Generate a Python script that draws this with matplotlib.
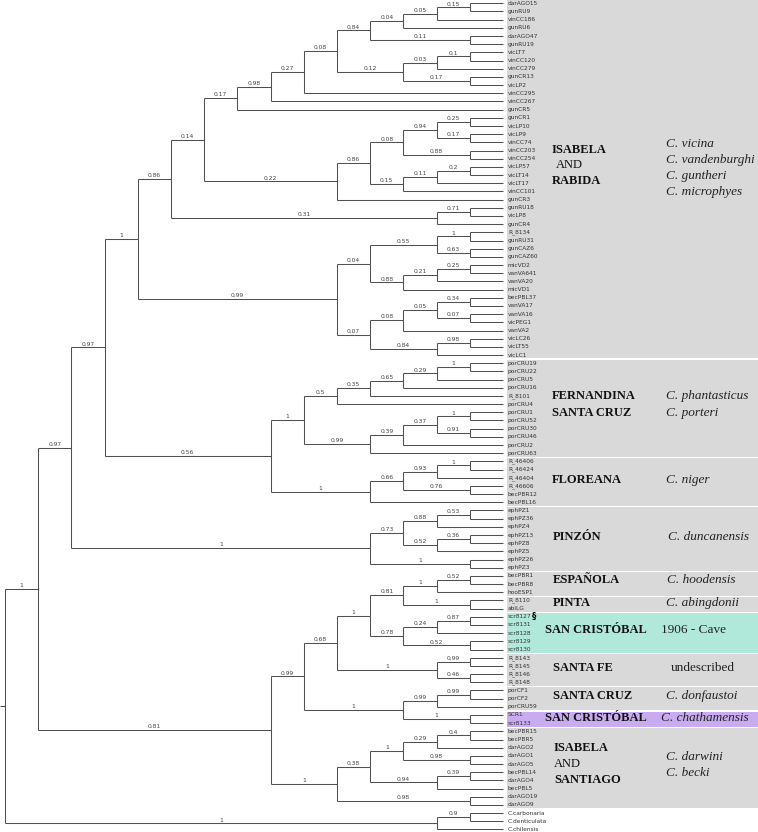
import matplotlib
matplotlib.use('Agg')
import matplotlib.pyplot as plt
from matplotlib.patches import Rectangle

# Tree data: newick pieces, internal labels are the support values **********
isa_top = ('((((((((darAGO15,gunRU9)0.15,vinCC186)0.05,gunRU6)0.04,(darAGO47,gunRU19)0.11)0.84,'
           '(((vicLT7,vinCC120)0.1,vinCC279)0.03,(gunCR13,vicLP2)0.17)0.12)0.08,vinCC295)0.27,'
           'vinCC267)0.98,gunCR5)0.17')
isa_mid = ('(((((gunCR1,vicLP10)0.25,(vicLP9,vinCC74)0.17)0.94,(vinCC203,vinCC254)0.88)0.08,'
           '(((vicLP57,vicLT14)0.2,vicLT17)0.11,vinCC101)0.15)0.86,gunCR3)0.22')
isa_low = '((gunRU18,vicLP8)0.71,gunCR4)0.31'
isa_va = ('((((R_8134,gunRU31)1,(gunCAZ6,gunCAZ60)0.63)0.55,(((micVD2,vanVA641)0.25,vanVA20)0.21,micVD1)0.88)0.04,'
          '((((becPBL37,vanVA17)0.34,(vanVA16,vicPEG1)0.07)0.05,vanVA2)0.08,((vicLC26,vicLT55)0.98,vicLC1)0.84)0.07)0.99')
fernandina = ('((((((porCRU19,porCRU22)1,porCRU5)0.29,porCRU16)0.65,R_8101)0.35,porCRU4)0.5,'
              '((((porCRU1,porCRU52)1,(porCRU30,porCRU46)0.91)0.37,porCRU2)0.39,porCRU63)0.99)1')
floreana = '((((R_46406,R_46424)1,R_46404)0.93,(R_46606,becPBR12)0.76)0.66,becPBL16)1'
pinzon = '((((ephPZ1,ephPZ36)0.53,ephPZ4)0.88,((ephPZ13,ephPZ8)0.36,ephPZ5)0.52)0.73,(ephPZ26,ephPZ3)1)1'
espanola_pinta = '(((becPBR1,becPBR8)0.52,hooESP1)1,(R_8110,abiLG)1)0.81'
san_cristobal = '(((scr8127,scr8131)0.87,scr8128)0.24,(scr8129,scr8130)0.52)0.78'
santa_fe = '((R_8143,R_8145)0.99,(R_8146,R_8148)0.46)1'
cruz_chatham = '(((porCF1,porCF2)0.99,porCRU59)0.99,(SCR1,scr8133)1)1'
isa_santiago = ('(((((becPBR15,becPBR5)0.4,darAGO2)0.29,(darAGO1,darAGO5)0.98)1,'
                '((becPBL14,darAGO4)0.39,becPBL5)0.94)0.38,(darAGO19,darAGO9)0.98)1')
outgroup = '((C.carbonaria,C.denticulata)0.9,C.chilensis)1'

isabela = '(((%s,%s)0.14,%s)0.86,%s)1' % (isa_top, isa_mid, isa_low, isa_va)
south = '((((%s,%s)1,%s)0.68,%s)0.99,%s)0.81' % (espanola_pinta, san_cristobal, santa_fe,
                                                 cruz_chatham, isa_santiago)
tree = '((((%s,(%s,%s)0.56)0.97,%s)0.97,%s)1,%s)' % (isabela, fernandina, floreana, pinzon,
                                                     south, outgroup)

# coloured blocks: first leaf, last leaf, colour
gray = '#d9d9d9'
groups = [('darAGO15', 'vicLC1', gray), ('porCRU19', 'porCRU63', gray),
          ('R_46406', 'becPBL16', gray), ('ephPZ1', 'ephPZ3', gray),
          ('becPBR1', 'hooESP1', gray), ('R_8110', 'abiLG', gray),
          ('scr8127', 'scr8130', '#b0e8da'), ('R_8143', 'R_8148', gray),
          ('porCF1', 'porCRU59', gray), ('SCR1', 'scr8133', '#c9acf0'),
          ('becPBR15', 'darAGO9', gray)]

# island names: text, y pixel, weight, x pixel
islands = [('ISABELA', 150, 'bold', 552), ('AND', 165, 'normal', 556), ('RABIDA', 181, 'bold', 552),
           ('FERNANDINA', 396, 'bold', 552), ('SANTA CRUZ', 413, 'bold', 552),
           ('FLOREANA', 480, 'bold', 552), ('PINZÓN', 537, 'bold', 553),
           ('ESPAÑOLA', 580, 'bold', 553), ('PINTA', 603, 'bold', 553),
           ('SAN CRISTÓBAL', 630, 'bold', 545), ('SANTA FE', 668, 'bold', 553),
           ('SANTA CRUZ', 696, 'bold', 553), ('SAN CRISTÓBAL', 718, 'bold', 545),
           ('ISABELA', 748, 'bold', 554), ('AND', 764, 'normal', 554), ('SANTIAGO', 780, 'bold', 554)]
# species names: text, y pixel, style, x pixel
species = [('C. vicina', 144, 'italic', 666), ('C. vandenburghi', 160, 'italic', 666),
           ('C. guntheri', 176, 'italic', 666), ('C. microphyes', 192, 'italic', 666),
           ('C. phantasticus', 396, 'italic', 666), ('C. porteri', 413, 'italic', 666),
           ('C. niger', 480, 'italic', 666), ('C. duncanensis', 537, 'italic', 668),
           ('C. hoodensis', 580, 'italic', 667), ('C. abingdonii', 603, 'italic', 666),
           ('1906 - Cave', 630, 'normal', 661), ('undescribed', 668, 'normal', 671),
           ('C. donfaustoi', 696, 'italic', 666), ('C. chathamensis', 718, 'italic', 661),
           ('C. darwini', 757, 'italic', 666), ('C. becki', 773, 'italic', 666)]


# Newick parsing ***************************************************************
def parse(s):
    pos = [0]

    def read():
        start = pos[0]
        while pos[0] < len(s) and s[pos[0]] not in '(),;':
            pos[0] += 1
        return s[start:pos[0]]

    def node():
        if s[pos[0]] == '(':
            pos[0] += 1
            kids = [node()]
            while s[pos[0]] == ',':
                pos[0] += 1
                kids.append(node())
            pos[0] += 1
            return {'kids': kids, 'label': read()}
        return {'kids': [], 'label': read()}

    return node()


leaves = []


def layout(n):
    if not n['kids']:
        n['h'] = 0
        n['y'] = len(leaves)
        leaves.append(n['label'])
    else:
        for k in n['kids']:
            layout(k)
        n['h'] = max(k['h'] for k in n['kids']) + 1
        n['y'] = (n['kids'][0]['y'] + n['kids'][-1]['y']) / 2.0


root = parse(tree)
layout(root)
H = root['h']

# Plot *************************************************************************
W, Hpx = 758, 832
fig = plt.figure(figsize=(W / 100.0, Hpx / 100.0), dpi=100)
ax = fig.add_axes([0, 0, 1, 1])
x0, xs = 5.0, 33.2     # pixel of root, pixel per level
y0, ys = 3.3, 8.18     # pixel of first leaf, pixel per leaf
ax.set_xlim(-x0 / xs, (W - x0) / xs)
ax.set_ylim((Hpx - y0) / ys, -y0 / ys)
ax.axis('off')

line_c = '#505050'

for first, last, col in groups:
    a, b = leaves.index(first), leaves.index(last)
    ax.add_patch(Rectangle((H + 0.12, a - 0.42), 10, b - a + 0.84,
                           facecolor=col, edgecolor='none', zorder=0))


def draw(n, px):
    x = H - n['h']
    ax.plot([px, x], [n['y'], n['y']], color=line_c, lw=0.75, solid_capstyle='butt')
    if n['kids']:
        ax.plot([x, x], [n['kids'][0]['y'], n['kids'][-1]['y']], color=line_c, lw=0.75,
                solid_capstyle='butt')
        if n['label'] and px >= 0:
            ax.annotate(n['label'], ((px + x) / 2.0, n['y']), xytext=(0, 0.6),
                        textcoords='offset points', ha='center', va='bottom',
                        fontsize=4.3, color='#444444')
        for k in n['kids']:
            draw(k, x)
    else:
        ax.text(x + 0.15, n['y'], n['label'], fontsize=4.2, color='#333333',
                va='center', ha='left')


draw(root, -x0 / xs)

# section mark after scr8127
ax.text((532 - x0) / xs, leaves.index('scr8127'), '§', fontsize=6, fontweight='bold',
        va='center', ha='left', color='black')

for t, ypx, w, xpx in islands:
    fig.text(xpx / W, 1 - ypx / Hpx, t, fontsize=9, fontweight=w, family='Liberation Serif',
             va='center', ha='left', color='#111111')
for t, ypx, st, xpx in species:
    fig.text(xpx / W, 1 - ypx / Hpx, t, fontsize=9.5, fontstyle=st, family='Liberation Serif',
             va='center', ha='left', color='#222222')

fig.savefig('out.png', dpi=100)
